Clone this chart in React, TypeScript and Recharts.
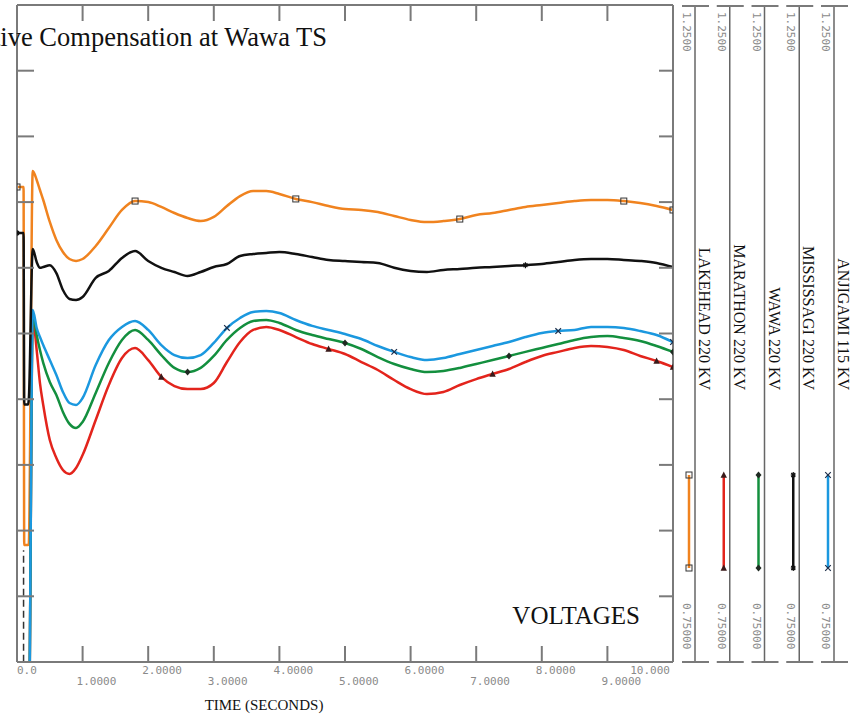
import React from 'react';
import { LineChart, Line, XAxis, YAxis, ReferenceLine } from 'recharts';

// time axis (seconds)
const TIME = [
  0, 0.1, 0.11, 0.17, 0.18, 0.24, 0.3, 0.35, 0.4, 0.5, 0.6, 0.7, 0.8, 0.9, 1.0,
  1.2, 1.4, 1.6, 1.8, 2.0, 2.2, 2.4, 2.6, 2.8, 3.0, 3.2, 3.4, 3.6, 3.8, 4.0,
  4.25, 4.5, 4.75, 5.0, 5.25, 5.5, 5.75, 6.0, 6.25, 6.5, 6.75, 7.0, 7.25, 7.5,
  7.75, 8.0, 8.25, 8.5, 8.75, 9.0, 9.25, 9.5, 9.75, 10,
];

// bus voltages (pu)
const LAKEHEAD = [
  1.1115, 1.1115, 0.839, 0.839, 0.84, 1.1237, 1.1168, 1.1092, 1.1016, 1.0849, 1.0712, 1.062, 1.0567, 1.0552, 1.0567,
  1.0666, 1.0803, 1.094, 1.1008, 1.1, 1.0963, 1.0917, 1.0879, 1.0856, 1.0887, 1.097, 1.1046, 1.1084, 1.1084, 1.1062,
  1.1024, 1.1, 1.097, 1.0947, 1.094, 1.0924, 1.0894, 1.0864, 1.0848, 1.0856, 1.0871, 1.0902, 1.0917, 1.094,
  1.0963, 1.0978, 1.0993, 1.1008, 1.1016, 1.1016, 1.1008, 1.0993, 1.097, 1.094,
];
const MARATHON = [
  0.7, 0.7, 0.7, 0.7, 0.7, 1.0118, 0.9874, 0.9623, 0.9456, 0.9189, 0.9052, 0.8961, 0.8931, 0.8976, 0.9075,
  0.9342, 0.9608, 0.9813, 0.9889, 0.9798, 0.967, 0.96, 0.9577, 0.9577, 0.9623, 0.9783, 0.9935, 1.0027, 1.005, 1.0027,
  0.9973, 0.992, 0.9882, 0.9844, 0.9783, 0.9722, 0.9646, 0.9577, 0.9539, 0.9555, 0.9608, 0.9653, 0.9692, 0.973,
  0.9783, 0.9829, 0.986, 0.989, 0.9905, 0.9897, 0.9874, 0.9829, 0.9791, 0.9745,
];
const WAWA = [
  0.7, 0.7, 0.7, 0.7, 0.7, 1.0156, 0.9989, 0.9874, 0.9776, 0.9631, 0.9532, 0.9403, 0.9312, 0.9281, 0.9327,
  0.9548, 0.9776, 0.9951, 1.0027, 0.9951, 0.9836, 0.9738, 0.9707, 0.9738, 0.9829, 0.9951, 1.0042, 1.0095, 1.0103, 1.008,
  1.0027, 0.9989, 0.9958, 0.9928, 0.9882, 0.9821, 0.9768, 0.973, 0.9707, 0.9715, 0.9738, 0.9768, 0.9798, 0.9829,
  0.986, 0.989, 0.992, 0.9951, 0.9973, 0.9981, 0.9966, 0.9943, 0.9905, 0.986,
];
const MISSISSAGI = [
  1.0765, 1.0765, 0.946, 0.946, 0.95, 1.0643, 1.0544, 1.05, 1.0506, 1.052, 1.046, 1.0331, 1.0263, 1.0255, 1.0278,
  1.0423, 1.0476, 1.0575, 1.0628, 1.0552, 1.05, 1.0468, 1.0438, 1.0468, 1.0506, 1.0529, 1.059, 1.0605, 1.0613, 1.062,
  1.0605, 1.0582, 1.056, 1.0552, 1.0544, 1.0537, 1.05, 1.0476, 1.0468, 1.0484, 1.0491, 1.05, 1.0506, 1.0514,
  1.052, 1.0529, 1.0544, 1.056, 1.0567, 1.0567, 1.056, 1.0552, 1.0537, 1.0506,
];
const ANJIGAMI = [
  0.7, 0.7, 0.7, 0.7, 0.7, 1.0179, 1.0042, 0.9973, 0.9912, 0.9798, 0.9684, 0.9555, 0.9471, 0.9456, 0.9509,
  0.976, 0.995, 1.005, 1.0095, 1.0027, 0.9912, 0.9836, 0.9813, 0.9836, 0.9928, 1.0042, 1.0118, 1.0164, 1.0171, 1.0156,
  1.0103, 1.0058, 1.0027, 0.9996, 0.9958, 0.9905, 0.986, 0.9821, 0.9798, 0.9813, 0.9844, 0.9874, 0.9905, 0.9935,
  0.9973, 1.0004, 1.0019, 1.0027, 1.005, 1.005, 1.0042, 1.0019, 0.9989, 0.9935,
];

// times where the plot symbols sit
const LAKEHEAD_MARKS = [0, 1.8, 4.25, 6.75, 9.25, 10];
const MARATHON_MARKS = [2.2, 4.75, 7.25, 9.75, 10];
const WAWA_MARKS = [2.6, 5.0, 7.5, 10];
const MISSISSAGI_MARKS = [0, 7.75];
const ANJIGAMI_MARKS = [3.2, 5.75, 8.25, 10];

const X_TICKS = [0, 1, 2, 3, 4, 5, 6, 7, 8, 9, 10];
const X_TICK_LABELS = ['0.0', '1.0000', '2.0000', '3.0000', '4.0000', '5.0000', '6.0000', '7.0000', '8.0000', '9.0000', '10.000'];
const INNER_X_TICKS = [1, 2, 3, 4, 5, 6, 7, 8, 9];
const Y_TICKS = [0.8, 0.85, 0.9, 0.95, 1.0, 1.05, 1.1, 1.15, 1.2];
const Y_MIN_LABEL = '0.75000';
const Y_MAX_LABEL = '1.2500';

const FRAME = '#7a7a7a';
const SERIF = '"Liberation Serif", "Times New Roman", serif';
const MONO = '"DejaVu Sans Mono", "Liberation Mono", monospace';

type Shape = 'square' | 'triangle' | 'diamond' | 'star' | 'cross';

const SERIES: { key: string; name: string; color: string; values: number[]; marks: number[]; shape: Shape }[] = [
  { key: 'lakehead', name: 'LAKEHEAD 220 KV', color: '#F0831F', values: LAKEHEAD, marks: LAKEHEAD_MARKS, shape: 'square' },
  { key: 'marathon', name: 'MARATHON 220 KV', color: '#E3241C', values: MARATHON, marks: MARATHON_MARKS, shape: 'triangle' },
  { key: 'wawa', name: 'WAWA 220 KV', color: '#138F3E', values: WAWA, marks: WAWA_MARKS, shape: 'diamond' },
  { key: 'mississagi', name: 'MISSISSAGI 220 KV', color: '#111111', values: MISSISSAGI, marks: MISSISSAGI_MARKS, shape: 'star' },
  { key: 'anjigami', name: 'ANJIGAMI 115 KV', color: '#1B98DF', values: ANJIGAMI, marks: ANJIGAMI_MARKS, shape: 'cross' },
];

// drawing order: black sits over orange at the fault
const DRAW_ORDER = ['lakehead', 'marathon', 'wawa', 'anjigami', 'mississagi'];

const rows = TIME.map((t, i) => {
  const r: Record<string, number> = { t };
  SERIES.forEach((s) => (r[s.key] = s.values[i]));
  return r;
});

const Marker = ({ shape, x, y }: { shape: Shape; x: number; y: number }) => {
  switch (shape) {
    case 'square':
      return <rect x={x - 3} y={y - 3} width={6} height={6} fill="none" stroke="#333" strokeWidth={1} />;
    case 'triangle':
      return <path d={`M${x},${y - 3.5}L${x + 3.2},${y + 2.8}L${x - 3.2},${y + 2.8}Z`} fill="#3a1a1a" />;
    case 'diamond':
      return <path d={`M${x},${y - 3.5}L${x + 3},${y}L${x},${y + 3.5}L${x - 3},${y}Z`} fill="#1f2a22" />;
    case 'cross':
      return <path d={`M${x - 2.8},${y - 2.8}L${x + 2.8},${y + 2.8}M${x + 2.8},${y - 2.8}L${x - 2.8},${y + 2.8}`} stroke="#1d2e4a" strokeWidth={1.2} />;
    default:
      return <path d={`M${x - 2.5},${y}L${x + 2.5},${y}M${x},${y - 3}L${x},${y + 3}M${x - 2},${y - 2}L${x + 2},${y + 2}M${x + 2},${y - 2}L${x - 2},${y + 2}`} stroke="#111" strokeWidth={1.2} />;
  }
};

const NoLabel = () => <g />;

const XTick = (props: any) => {
  const { x, y, payload } = props;
  const v = payload.value;
  const label = X_TICK_LABELS[X_TICKS.indexOf(v)];
  const odd = v % 2 === 1;
  let tx = x - 6;
  let anchor: 'start' | 'end' = 'start';
  if (v === 0) tx = x;
  if (v === 10) {
    tx = x - 3;
    anchor = 'end';
  }
  return (
    <text x={tx} y={y + (odd ? 23 : 12)} textAnchor={anchor} fontFamily={MONO} fontSize={11} fill="#8a8a8a">
      {label}
    </text>
  );
};

const LEGEND_X0 = 695;
const LEGEND_STEP = 34.75;

const Overlay = () => (
  <svg width={863} height={717} style={{ position: 'absolute', left: 0, top: 0, pointerEvents: 'none' }}>
    <text x={327} y={46} textAnchor="end" fontFamily={SERIF} fontSize={26.5} fill="#111">
      Reactive Compensation at Wawa TS
    </text>
    <text x={640} y={624} textAnchor="end" fontFamily={SERIF} fontSize={25} fill="#111">
      VOLTAGES
    </text>
    <text x={264} y={710} textAnchor="middle" fontFamily={SERIF} fontSize={15} fill="#111">
      TIME (SECONDS)
    </text>
    {SERIES.map((s, i) => {
      const xv = LEGEND_X0 + i * LEGEND_STEP;
      const xs = xv - 6;
      return (
        <g key={s.key}>
          <line x1={xv} y1={6} x2={xv} y2={662} stroke="#666" strokeWidth={1.5} />
          <line x1={xv - 13} y1={6} x2={xv + 14} y2={6} stroke={FRAME} strokeWidth={2} />
          <line x1={xv - 13} y1={662} x2={xv + 14} y2={662} stroke={FRAME} strokeWidth={2} />
          <text x={xv - 12} y={12} transform={`rotate(90 ${xv - 12} 12)`} fontFamily={MONO} fontSize={11} fill="#8a8a8a">
            {Y_MAX_LABEL}
          </text>
          <text x={xv - 12} y={603} transform={`rotate(90 ${xv - 12} 603)`} fontFamily={MONO} fontSize={11} fill="#8a8a8a">
            {Y_MIN_LABEL}
          </text>
          <text x={xv + 4} y={390} transform={`rotate(90 ${xv + 4} 390)`} textAnchor="end" fontFamily={SERIF} fontSize={16} fill="#111">
            {s.name}
          </text>
          <line x1={xs} y1={475} x2={xs} y2={568} stroke={s.color} strokeWidth={2.5} />
          <Marker shape={s.shape} x={xs} y={475} />
          <Marker shape={s.shape} x={xs} y={568} />
        </g>
      );
    })}
  </svg>
);

export default function App() {
  const axisStroke = { stroke: FRAME, strokeWidth: 2 };
  return (
    <div style={{ position: 'absolute', left: 0, top: 0, width: 863, height: 717, background: '#fff' }}>
      <LineChart width={863} height={717} data={rows} margin={{ top: 5, right: 190, bottom: 25, left: 17 }}>
        <XAxis
          dataKey="t"
          type="number"
          domain={[0, 10]}
          ticks={X_TICKS}
          interval={0}
          height={30}
          tickLine={false}
          tickSize={0}
          tickMargin={0}
          axisLine={axisStroke}
          tick={<XTick />}
          allowDataOverflow
        />
        <XAxis
          xAxisId="top"
          dataKey="t"
          orientation="top"
          type="number"
          domain={[0, 10]}
          allowDataOverflow
          ticks={INNER_X_TICKS}
          interval={0}
          mirror
          tick={<NoLabel />}
          tickSize={16}
          axisLine={axisStroke}
          tickLine={axisStroke}
        />
        <XAxis
          xAxisId="bottomInner"
          dataKey="t"
          orientation="bottom"
          type="number"
          domain={[0, 10]}
          allowDataOverflow
          ticks={INNER_X_TICKS}
          interval={0}
          mirror
          tick={<NoLabel />}
          tickSize={16}
          axisLine={false}
          tickLine={axisStroke}
        />
        <YAxis type="number" domain={[0.75, 1.25]} ticks={Y_TICKS} interval={0} allowDataOverflow mirror tick={<NoLabel />} tickSize={17} axisLine={axisStroke} tickLine={axisStroke} />
        <YAxis yAxisId="right" orientation="right" type="number" domain={[0.75, 1.25]} allowDataOverflow ticks={Y_TICKS} interval={0} mirror tick={<NoLabel />} tickSize={14} axisLine={axisStroke} tickLine={axisStroke} />
        <ReferenceLine
          segment={[{ x: 0.1, y: 0.7 }, { x: 0.1, y: 0.835 }]}
          stroke="#333"
          strokeWidth={1.5}
          strokeDasharray="7 4"
          ifOverflow="hidden"
        />
        {DRAW_ORDER.map((k) => {
          const s = SERIES.find((x) => x.key === k)!;
          return (
            <Line
              key={s.key}
              dataKey={s.key}
              type="monotone"
              stroke={s.color}
              strokeWidth={2.5}
              isAnimationActive={false}
              activeDot={false}
              dot={(p: any) => {
                const t = p.payload?.t;
                if (!s.marks.includes(t) || p.cy == null || p.cy > 662) return <g key={`${s.key}-${p.index}`} />;
                return (
                  <g key={`${s.key}-${p.index}`}>
                    <Marker shape={s.shape} x={p.cx} y={p.cy} />
                  </g>
                );
              }}
            />
          );
        })}
      </LineChart>
      <Overlay />
    </div>
  );
}
